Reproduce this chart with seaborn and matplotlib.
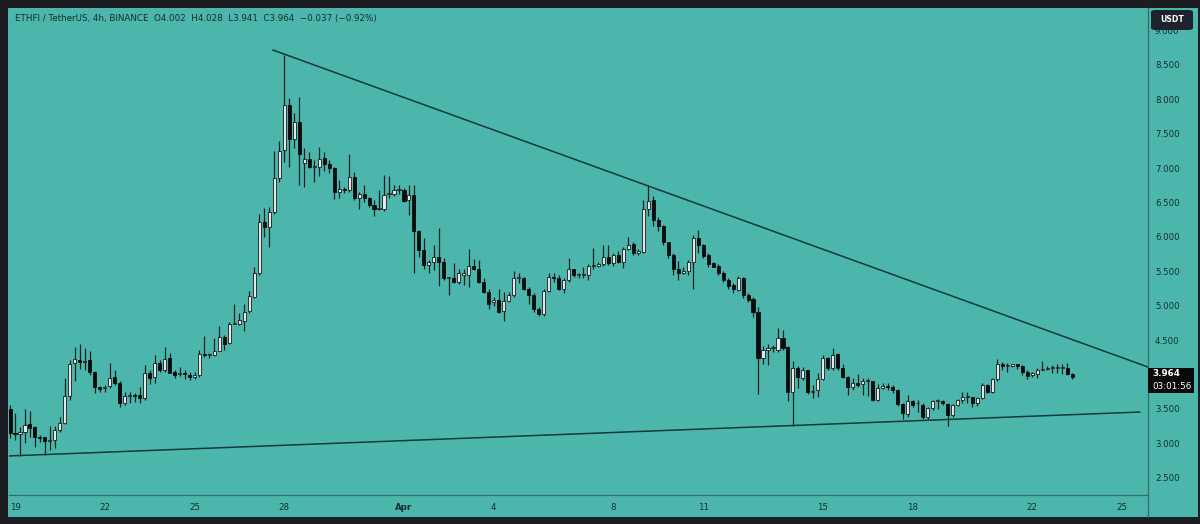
import numpy as np
import pandas as pd
import matplotlib
matplotlib.use("Agg")
import matplotlib.pyplot as plt
import matplotlib.dates as mdates
from matplotlib.patches import Rectangle, FancyBboxPatch
import seaborn as sns

# ---------------- data ----------------
start_time = "2024-03-18 20:00"
bar_freq = "4h"

opens = [3.50, 3.15, 3.13, 3.17, 3.28, 3.24, 3.09, 3.09, 3.04, 3.05,
         3.19, 3.30, 3.69, 4.17, 4.21, 4.18, 4.21, 4.04, 3.82, 3.80,
         3.83, 3.97, 3.88, 3.58, 3.69, 3.70, 3.70, 3.66, 4.03, 3.96,
         4.17, 4.07, 4.24, 4.04, 4.01, 4.02, 4.00, 3.96, 3.99, 4.30,
         4.29, 4.28, 4.35, 4.54, 4.46, 4.74, 4.74, 4.78, 4.92, 5.13,
         5.47, 6.22, 6.15, 6.37, 6.86, 7.26, 7.92, 7.42, 7.67, 7.07,
         7.13, 7.02, 7.02, 7.15, 7.06, 7.00, 6.66, 6.69, 6.68, 6.87,
         6.56, 6.62, 6.56, 6.47, 6.41, 6.41, 6.63, 6.63, 6.69, 6.69,
         6.54, 6.61, 6.08, 5.81, 5.59, 5.64, 5.71, 5.64, 5.40, 5.41,
         5.35, 5.45, 5.45, 5.58, 5.54, 5.34, 5.20, 5.05, 5.08, 4.92,
         5.07, 5.16, 5.41, 5.41, 5.25, 5.16, 4.95, 4.88, 5.22, 5.42,
         5.41, 5.24, 5.37, 5.53, 5.45, 5.45, 5.45, 5.58, 5.58, 5.61,
         5.71, 5.62, 5.74, 5.64, 5.82, 5.90, 5.77, 5.78, 6.40, 6.54,
         6.25, 6.16, 5.92, 5.74, 5.54, 5.47, 5.50, 5.63, 5.98, 5.88,
         5.74, 5.62, 5.58, 5.48, 5.38, 5.30, 5.23, 5.41, 5.16, 5.10,
         4.91, 4.24, 4.36, 4.38, 4.36, 4.53, 4.40, 3.75, 4.09, 3.95,
         4.06, 3.75, 3.77, 3.93, 4.24, 4.09, 4.30, 4.09, 3.96, 3.82,
         3.88, 3.87, 3.91, 3.90, 3.63, 3.80, 3.83, 3.82, 3.77, 3.57,
         3.43, 3.61, 3.58, 3.56, 3.38, 3.51, 3.61, 3.61, 3.57, 3.41,
         3.56, 3.63, 3.68, 3.67, 3.59, 3.66, 3.85, 3.75, 3.93, 4.16,
         4.13, 4.12, 4.15, 4.12, 4.04, 3.99, 4.01, 4.07, 4.08, 4.09,
         4.09, 4.09, 4.09, 4.002]

highs = [3.56, 3.44, 3.24, 3.50, 3.47, 3.25, 3.12, 3.09, 3.25, 3.26,
         3.38, 3.95, 4.21, 4.40, 4.44, 4.38, 4.35, 4.05, 3.83, 3.85,
         4.17, 4.07, 3.90, 3.75, 3.74, 3.73, 3.82, 4.14, 4.07, 4.28,
         4.21, 4.40, 4.31, 4.07, 4.11, 4.06, 4.04, 4.04, 4.36, 4.56,
         4.32, 4.53, 4.71, 4.58, 4.77, 5.02, 4.89, 5.02, 5.21, 5.56,
         6.34, 6.42, 6.44, 7.25, 7.39, 8.65, 8.02, 7.80, 8.04, 7.29,
         7.23, 7.12, 7.31, 7.23, 7.12, 7.01, 6.83, 6.73, 7.20, 6.95,
         6.66, 6.75, 6.58, 6.54, 6.68, 6.90, 6.88, 6.76, 6.76, 6.71,
         6.76, 6.76, 6.10, 5.98, 5.66, 5.88, 6.13, 5.69, 5.42, 5.62,
         5.54, 5.54, 5.82, 5.68, 5.67, 5.40, 5.25, 5.13, 5.24, 5.20,
         5.20, 5.50, 5.47, 5.42, 5.28, 5.18, 4.98, 5.25, 5.47, 5.48,
         5.45, 5.40, 5.70, 5.54, 5.48, 5.56, 5.61, 5.84, 5.64, 5.88,
         5.88, 5.76, 5.79, 5.85, 6.00, 5.93, 5.83, 6.54, 6.76, 6.59,
         6.29, 6.17, 5.93, 5.76, 5.65, 5.57, 5.66, 6.03, 6.10, 5.90,
         5.76, 5.64, 5.61, 5.50, 5.41, 5.33, 5.43, 5.42, 5.18, 5.13,
         4.98, 4.42, 4.44, 4.43, 4.67, 4.65, 4.42, 4.20, 4.12, 4.11,
         4.07, 3.85, 4.02, 4.29, 4.25, 4.38, 4.32, 4.16, 3.98, 3.95,
         4.01, 3.95, 3.95, 3.91, 3.87, 3.88, 3.88, 3.85, 3.79, 3.59,
         3.70, 3.63, 3.63, 3.58, 3.53, 3.63, 3.64, 3.63, 3.58, 3.57,
         3.65, 3.74, 3.74, 3.68, 3.68, 3.88, 3.87, 3.95, 4.22, 4.19,
         4.17, 4.16, 4.16, 4.14, 4.06, 4.04, 4.09, 4.20, 4.13, 4.14,
         4.15, 4.15, 4.17, 4.028]

lows = [3.08, 3.05, 2.82, 3.01, 3.10, 2.95, 3.02, 2.83, 2.90, 2.94,
        3.17, 3.28, 3.63, 3.90, 4.08, 4.07, 3.99, 3.73, 3.74, 3.75,
        3.80, 3.85, 3.53, 3.56, 3.58, 3.60, 3.58, 3.63, 3.87, 3.88,
        4.04, 4.04, 4.02, 3.95, 3.98, 3.94, 3.92, 3.94, 3.97, 4.26,
        4.24, 4.27, 4.34, 4.36, 4.44, 4.73, 4.72, 4.63, 4.89, 5.11,
        5.45, 6.00, 5.86, 6.34, 6.80, 7.09, 7.02, 7.29, 6.76, 6.73,
        7.00, 6.80, 6.89, 6.96, 6.93, 6.55, 6.57, 6.64, 6.66, 6.54,
        6.41, 6.51, 6.44, 6.31, 6.39, 6.38, 6.56, 6.59, 6.63, 6.51,
        6.32, 5.47, 5.71, 5.54, 5.47, 5.52, 5.29, 5.38, 5.16, 5.33,
        5.32, 5.30, 5.27, 5.52, 5.33, 5.19, 4.96, 4.99, 4.90, 4.78,
        5.06, 5.13, 5.33, 5.23, 5.03, 4.91, 4.85, 4.85, 5.20, 5.34,
        5.23, 5.18, 5.34, 5.42, 5.40, 5.40, 5.38, 5.54, 5.57, 5.58,
        5.59, 5.58, 5.62, 5.55, 5.81, 5.74, 5.74, 5.76, 6.30, 6.16,
        6.08, 5.88, 5.69, 5.45, 5.37, 5.46, 5.45, 5.24, 5.76, 5.70,
        5.57, 5.56, 5.45, 5.34, 5.25, 5.19, 5.21, 5.12, 5.06, 4.84,
        3.72, 4.16, 4.14, 4.33, 4.33, 4.36, 3.61, 3.25, 3.80, 3.92,
        3.72, 3.66, 3.68, 3.92, 4.07, 4.07, 4.07, 3.95, 3.70, 3.78,
        3.82, 3.70, 3.69, 3.62, 3.61, 3.79, 3.77, 3.73, 3.54, 3.36,
        3.39, 3.53, 3.46, 3.35, 3.35, 3.48, 3.50, 3.56, 3.25, 3.38,
        3.54, 3.58, 3.59, 3.53, 3.54, 3.64, 3.73, 3.73, 3.91, 4.07,
        4.04, 4.11, 4.08, 3.99, 3.93, 3.97, 3.95, 4.06, 4.06, 4.02,
        4.03, 4.01, 3.99, 3.941]

closes = [3.15, 3.14, 3.16, 3.27, 3.23, 3.09, 3.08, 3.03, 3.05, 3.20,
          3.30, 3.69, 4.16, 4.22, 4.18, 4.20, 4.04, 3.82, 3.79, 3.81,
          3.95, 3.88, 3.58, 3.69, 3.70, 3.69, 3.66, 4.03, 3.95, 4.17,
          4.07, 4.23, 4.03, 4.00, 4.02, 4.01, 3.96, 3.99, 4.30, 4.29,
          4.29, 4.35, 4.54, 4.45, 4.74, 4.74, 4.79, 4.91, 5.14, 5.47,
          6.22, 6.15, 6.37, 6.85, 7.25, 7.92, 7.42, 7.67, 7.21, 7.13,
          7.02, 7.02, 7.14, 7.06, 7.00, 6.66, 6.70, 6.68, 6.87, 6.56,
          6.62, 6.56, 6.47, 6.41, 6.42, 6.61, 6.63, 6.69, 6.69, 6.53,
          6.61, 6.08, 5.81, 5.59, 5.64, 5.71, 5.64, 5.40, 5.40, 5.35,
          5.47, 5.47, 5.58, 5.54, 5.34, 5.20, 5.03, 5.08, 4.91, 5.07,
          5.16, 5.41, 5.41, 5.25, 5.16, 4.95, 4.88, 5.22, 5.42, 5.41,
          5.24, 5.37, 5.53, 5.45, 5.45, 5.46, 5.58, 5.58, 5.61, 5.71,
          5.62, 5.74, 5.64, 5.82, 5.88, 5.77, 5.79, 6.40, 6.53, 6.25,
          6.16, 5.92, 5.74, 5.54, 5.47, 5.50, 5.63, 5.98, 5.88, 5.72,
          5.61, 5.57, 5.47, 5.38, 5.29, 5.24, 5.41, 5.16, 5.09, 4.91,
          4.24, 4.36, 4.38, 4.38, 4.53, 4.38, 3.75, 4.09, 3.96, 4.07,
          3.75, 3.76, 3.93, 4.24, 4.09, 4.29, 4.09, 3.96, 3.82, 3.88,
          3.85, 3.90, 3.92, 3.63, 3.80, 3.83, 3.82, 3.77, 3.57, 3.44,
          3.61, 3.56, 3.58, 3.38, 3.51, 3.61, 3.61, 3.58, 3.41, 3.56,
          3.63, 3.68, 3.68, 3.59, 3.66, 3.85, 3.75, 3.93, 4.16, 4.12,
          4.14, 4.15, 4.12, 4.04, 3.98, 4.02, 4.06, 4.08, 4.10, 4.09,
          4.09, 4.09, 4.01, 3.964]

date_tick_dates = ["2024-03-19", "2024-03-22", "2024-03-25", "2024-03-28",
                   "2024-04-01", "2024-04-04", "2024-04-08", "2024-04-11",
                   "2024-04-15", "2024-04-18", "2024-04-22", "2024-04-25"]
date_tick_labels = ["19", "22", "25", "28", "Apr", "4", "8", "11",
                    "15", "18", "22", "25"]
# 4.000 is hidden behind the last-price label in the reference
price_ticks = [2.5, 3.0, 3.5, 4.5, 5.0, 5.5, 6.0, 6.5, 7.0, 7.5, 8.0, 8.5, 9.0]

# trend lines (bar index, price)
upper_trend_bars = [52.7, 228.2]
upper_trend_prices = [8.718, 4.110]
lower_trend_bars = [-0.4, 226.6]
lower_trend_prices = [2.817, 3.456]

last_price = 3.964
countdown = "03:01:56"
title_text = "ETHFI / TetherUS, 4h, BINANCE  O4.002  H4.028  L3.941  C3.964  \u22120.037 (\u22120.92%)"

# ---------------- style ----------------
TEAL = "#4db6ac"
DARK = "#1c1d23"
TEXT = "#10302c"
WICK = "#0f2522"
UP_FILL = "#e4e9e8"
DOWN_FILL = "#0b0b0b"
LINE = "#123a36"
SEP = "#2f6f69"

sns.set_theme(style="ticks", rc={"axes.facecolor": TEAL, "figure.facecolor": DARK})
plt.rcParams["font.family"] = ["DejaVu Sans"]

W, H = 1200, 524
fig = plt.figure(figsize=(W / 100, H / 100), dpi=100)

# teal panel
fig.add_artist(Rectangle((8 / W, 1 - 517 / H), (1198 - 8) / W, (517 - 8) / H,
                         transform=fig.transFigure, facecolor=TEAL, edgecolor="none", zorder=-5))

ax_left, ax_right, ax_top, ax_bottom = 9, 1148, 8, 495
ax = fig.add_axes([ax_left / W, 1 - ax_bottom / H, (ax_right - ax_left) / W, (ax_bottom - ax_top) / H])
ax.set_facecolor(TEAL)

o = np.array(opens); h = np.array(highs); l = np.array(lows); c = np.array(closes)
times = pd.date_range(start_time, periods=len(o), freq=bar_freq)
x = mdates.date2num(times.to_pydatetime())
bar_days = 4 / 24
width = 0.62 * bar_days

up = c >= o
body_lo = np.minimum(o, c)
body_h = np.maximum(np.abs(c - o), 0.014)

ax.vlines(x, l, h, color=WICK, linewidth=0.9, zorder=2)
ax.bar(x[up], body_h[up], bottom=body_lo[up], width=width, color=UP_FILL,
       edgecolor="#1a1a1a", linewidth=0.6, zorder=3)
ax.bar(x[~up], body_h[~up], bottom=body_lo[~up], width=width, color=DOWN_FILL,
       edgecolor=DOWN_FILL, linewidth=0.6, zorder=3)

t0 = mdates.date2num(pd.Timestamp(start_time).to_pydatetime())
trend_df = pd.DataFrame({
    "x": [t0 + b * bar_days for b in upper_trend_bars + lower_trend_bars],
    "y": upper_trend_prices + lower_trend_prices,
    "line": ["upper", "upper", "lower", "lower"],
})
sns.lineplot(data=trend_df, x="x", y="y", units="line", estimator=None,
             color=LINE, linewidth=1.1, ax=ax, legend=False, zorder=4)

ax.set_xlim(t0 - 0.2 * bar_days, t0 + 228.2 * bar_days)
ax.set_ylim(2.250, 9.328)
ax.set_xlabel("")
ax.set_ylabel("")

ax.set_xticks(mdates.date2num(pd.to_datetime(date_tick_dates).to_pydatetime()))
ax.set_xticklabels(date_tick_labels)
for lbl in ax.get_xticklabels():
    if lbl.get_text() == "Apr":
        lbl.set_fontweight("bold")
ax.yaxis.tick_right()
ax.set_yticks(price_ticks)
ax.set_yticklabels([f"{v:.3f}" for v in price_ticks])
ax.tick_params(axis="x", length=0, pad=6, labelsize=6.2, labelcolor=TEXT)
ax.tick_params(axis="y", length=0, pad=5, labelsize=6.2, labelcolor=TEXT)
ax.grid(False)
for side in ["top", "left"]:
    ax.spines[side].set_visible(False)
for side in ["right", "bottom"]:
    ax.spines[side].set_color(SEP)
    ax.spines[side].set_linewidth(0.9)

# vertical separator continues in axis strip
fig.add_artist(plt.Line2D([ax_right / W, ax_right / W], [1 - 517 / H, 1 - ax_bottom / H],
                          transform=fig.transFigure, color=SEP, linewidth=0.9))

# title legend
fig.text(15 / W, 1 - 18 / H, title_text, fontsize=6.3, color=TEXT, va="center", ha="left")

# USDT box
fig.add_artist(FancyBboxPatch((1151 / W, 1 - 30 / H), 42 / W, 20 / H,
                              boxstyle="round,pad=0,rounding_size=0.004",
                              transform=fig.transFigure, facecolor="#1e222d",
                              edgecolor="none", zorder=10))
fig.text(1172 / W, 1 - 19.5 / H, "USDT", fontsize=5.6, color="white", fontweight="bold",
         ha="center", va="center", zorder=11)

# last price label
fig.canvas.draw()
y_px = ax.transData.transform((x[-1], last_price))[1]
fig.add_artist(Rectangle((ax_right / W, (y_px - 16) / H), 46 / W, 25 / H,
                         transform=fig.transFigure, facecolor="#0a0a0a",
                         edgecolor="none", zorder=10))
fig.text(1152 / W, (y_px + 4) / H, f"{last_price:.3f}", fontsize=6.3, color="white",
         fontweight="bold", ha="left", va="center", zorder=11)
fig.text(1152 / W, (y_px - 9) / H, countdown, fontsize=6.3, color="white",
         ha="left", va="center", zorder=11)

fig.savefig("out.png", dpi=100, facecolor=fig.get_facecolor())
